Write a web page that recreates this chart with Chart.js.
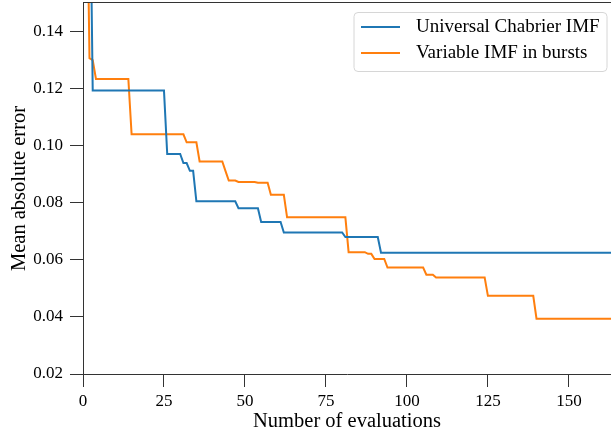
<!DOCTYPE html>
<html>
<head>
<meta charset="utf-8">
<script src="https://cdn.jsdelivr.net/npm/chart.js@4/dist/chart.umd.min.js"></script>
<style>
  html, body { margin: 0; padding: 0; background: #fff; }
  #c { display: block; }
</style>
</head>
<body>
<canvas id="c" width="611" height="434"></canvas>
<script>
// Best mean absolute error found so far, listed at the evaluations where it improved.
const chabrierEvals = [0, 3, 26, 31, 33, 35, 48, 55, 62, 81, 92, 164];
const chabrierBest  = [0.21, 0.1193, 0.0971, 0.0939, 0.0912, 0.0805, 0.0781, 0.0733, 0.0696, 0.0680, 0.0625, 0.0625];

const burstEvals = [0, 2, 3, 4, 15, 32, 36, 44, 45, 48, 54, 58, 63, 82, 88, 90, 94, 106, 109, 125, 140, 164];
const burstBest  = [0.21, 0.1307, 0.1300, 0.1234, 0.1040, 0.1012, 0.0945, 0.0911, 0.0878, 0.0873, 0.0870, 0.0828, 0.0749, 0.0627, 0.0621, 0.0603, 0.0573, 0.0548, 0.0538, 0.0474, 0.0394, 0.0394];

const seriesNames = ['Universal Chabrier IMF', 'Variable IMF in bursts'];
const xTickValues = [0, 25, 50, 75, 100, 125, 150];
const yTickValues = [0.02, 0.04, 0.06, 0.08, 0.10, 0.12, 0.14];

// The best value holds until the evaluation just before the next improvement.
function runningBest(evals, best) {
  const pts = [];
  for (let i = 0; i < evals.length; i++) {
    if (i > 0 && evals[i] - 1 > evals[i - 1]) pts.push({ x: evals[i] - 1, y: best[i - 1] });
    pts.push({ x: evals[i], y: best[i] });
  }
  return pts;
}

const SERIF = '"Liberation Serif", "Times New Roman", serif';
const AXIS = '#333';

// Frame line along the top of the plot area
const topSpine = {
  id: 'topSpine',
  afterDraw(chart) {
    const { ctx, chartArea } = chart;
    ctx.save();
    ctx.strokeStyle = AXIS;
    ctx.lineWidth = 1;
    ctx.beginPath();
    ctx.moveTo(chartArea.left, chartArea.top - 0.5);
    ctx.lineTo(chartArea.right, chartArea.top - 0.5);
    ctx.stroke();
    ctx.restore();
  }
};

// Legend box in the upper right corner of the plot
const insetLegend = {
  id: 'insetLegend',
  afterDraw(chart) {
    const { ctx } = chart;
    const x0 = 354, y0 = 12.5, w = 253, h = 59, r = 4;
    ctx.save();
    ctx.beginPath();
    ctx.moveTo(x0 + r, y0);
    ctx.arcTo(x0 + w, y0, x0 + w, y0 + h, r);
    ctx.arcTo(x0 + w, y0 + h, x0, y0 + h, r);
    ctx.arcTo(x0, y0 + h, x0, y0, r);
    ctx.arcTo(x0, y0, x0 + w, y0, r);
    ctx.closePath();
    ctx.fillStyle = 'rgba(255,255,255,0.8)';
    ctx.fill();
    ctx.strokeStyle = '#d6d6d6';
    ctx.lineWidth = 1;
    ctx.stroke();
    ctx.font = '19px ' + SERIF;
    ctx.textBaseline = 'middle';
    ctx.fillStyle = '#000';
    chart.data.datasets.forEach((ds, i) => {
      const y = 27 + i * 26;
      ctx.strokeStyle = ds.borderColor;
      ctx.lineWidth = 2;
      ctx.beginPath();
      ctx.moveTo(361, y);
      ctx.lineTo(400, y);
      ctx.stroke();
      ctx.fillText(ds.label, 416, y);
    });
    ctx.restore();
  }
};

new Chart(document.getElementById('c'), {
  type: 'line',
  data: {
    datasets: [
      {
        label: seriesNames[0],
        data: runningBest(chabrierEvals, chabrierBest),
        borderColor: '#1f77b4',
        borderWidth: 2,
        pointRadius: 0,
        tension: 0,
        fill: false
      },
      {
        label: seriesNames[1],
        data: runningBest(burstEvals, burstBest),
        borderColor: '#ff7f0e',
        borderWidth: 2,
        pointRadius: 0,
        tension: 0,
        fill: false
      }
    ]
  },
  options: {
    responsive: false,
    devicePixelRatio: 1,
    animation: false,
    layout: { padding: { top: 3, right: 0, bottom: 0, left: 0 } },
    plugins: {
      legend: { display: false },
      tooltip: { enabled: false }
    },
    scales: {
      x: {
        type: 'linear',
        min: 0,
        max: 163,
        afterBuildTicks(scale) { scale.ticks = xTickValues.map(v => ({ value: v })); },
        afterFit(scale) {
          scale.height = 60;
          scale.paddingLeft = 0;
          scale.paddingRight = 0;
        },
        grid: { drawOnChartArea: false, drawTicks: true, tickLength: 13, color: AXIS, tickColor: AXIS, tickWidth: 1 },
        border: { display: true, color: AXIS, width: 1 },
        ticks: {
          color: '#000',
          padding: 4,
          maxRotation: 0,
          font: { family: SERIF, size: 17 },
          callback: v => String(v)
        },
        title: {
          display: true,
          text: 'Number of evaluations',
          color: '#000',
          font: { family: SERIF, size: 20.5, lineHeight: 1.2 },
          padding: { top: 0, bottom: 0 }
        }
      },
      y: {
        type: 'linear',
        min: 0.02,
        max: 0.15,
        afterBuildTicks(scale) { scale.ticks = yTickValues.map(v => ({ value: v })); },
        afterFit(scale) {
          scale.width = 83;
          scale.paddingTop = 0;
          scale.paddingBottom = 0;
        },
        grid: { drawOnChartArea: false, drawTicks: true, tickLength: 13, color: AXIS, tickColor: AXIS, tickWidth: 1 },
        border: { display: true, color: AXIS, width: 1 },
        ticks: {
          color: '#000',
          padding: 7,
          font: { family: SERIF, size: 17 },
          callback: v => Number(v).toFixed(2)
        },
        title: {
          display: true,
          text: 'Mean absolute error',
          color: '#000',
          font: { family: SERIF, size: 20.5, lineHeight: 1.2 },
          padding: { top: 7, bottom: 0 }
        }
      }
    }
  },
  plugins: [topSpine, insetLegend]
});
</script>
</body>
</html>
